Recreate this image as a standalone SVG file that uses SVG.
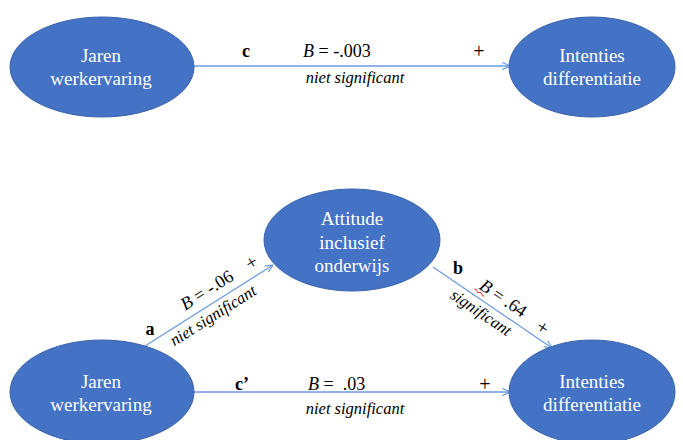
<svg xmlns="http://www.w3.org/2000/svg" width="683" height="440" viewBox="0 0 683 440">
<defs>
<style>
.node{fill:#4472C4;stroke:#3A63AB;stroke-width:1}
.nt{font-family:"Liberation Serif","Times New Roman",serif;font-size:19px;fill:#fff;text-anchor:middle}
.lbl{font-family:"Liberation Serif","Times New Roman",serif;font-size:18px;fill:#000}
.pl{font-family:"Liberation Serif","Times New Roman",serif;font-size:20px;fill:#000;text-anchor:middle}
.b{font-weight:bold}
.it{font-style:italic}
.ns{font-family:"Liberation Serif","Times New Roman",serif;font-size:16.5px;font-style:italic;fill:#000;text-anchor:middle}
.edge{stroke:#6D9BE0;stroke-width:1.3;fill:none;marker-end:url(#arr)}
</style>
<marker id="arr" viewBox="0 0 10 10" refX="9.5" refY="5" markerWidth="9" markerHeight="9" markerUnits="userSpaceOnUse" orient="auto">
<path d="M1,1 L9.5,5 L1,9" fill="none" stroke="#6D9BE0" stroke-width="1.3"/>
</marker>
</defs>
<rect width="683" height="440" fill="#fff"/>
<g id="connectors">
<line class="edge" x1="194" y1="66" x2="510" y2="66"/>
<line class="edge" x1="145" y1="346" x2="273" y2="265"/>
<line class="edge" x1="433" y1="267" x2="552" y2="348"/>
<line class="edge" x1="194" y1="392" x2="510" y2="392"/>
</g>
<g id="labels">
<text class="lbl b" x="246" y="57" text-anchor="middle">c</text>
<text class="lbl" x="303" y="57"><tspan class="it">B</tspan> = -.003</text>
<text class="pl" x="479" y="58">+</text>
<text class="ns" x="355" y="83">niet significant</text>
<text class="lbl b" x="150" y="335" text-anchor="middle">a</text>
<text class="lbl" text-anchor="middle" transform="translate(210,295) rotate(-32.3)"><tspan class="it">B</tspan> = -.06</text>
<text class="pl" transform="translate(255,268) rotate(-32.3)">+</text>
<text class="ns" transform="translate(216,320) rotate(-32.3)">niet significant</text>
<text class="lbl b" x="458" y="274" text-anchor="middle">b</text>
<g transform="translate(500,303) rotate(34.2)">
<text class="lbl" text-anchor="middle"><tspan class="it">B</tspan> = .64</text>
<path d="M-29,3 q1.5,-2 3,0 t3,0 t3,0 t3,0" fill="none" stroke="#E03030" stroke-width="0.9"/>
</g>
<text class="pl" transform="translate(539,333) rotate(34.2)">+</text>
<text class="ns" transform="translate(478,317) rotate(34.2)">significant</text>
<text class="lbl b" x="242" y="390" text-anchor="middle">c’</text>
<text class="lbl" x="308" y="390"><tspan class="it">B</tspan> =&#160;&#160;.03</text>
<text class="pl" x="485" y="391">+</text>
<text class="ns" x="355" y="414">niet significant</text>
</g>
<g id="jaren-top">
<ellipse class="node" cx="102" cy="67" rx="92" ry="50"/>
<text class="nt" x="101" y="62">Jaren</text>
<text class="nt" x="101" y="85">werkervaring</text>
</g>
<g id="intenties-top">
<ellipse class="node" cx="592" cy="67" rx="83" ry="50"/>
<text class="nt" x="592" y="62">Intenties</text>
<text class="nt" x="592" y="85">differentiatie</text>
</g>
<g id="attitude">
<ellipse class="node" cx="352" cy="240" rx="88" ry="51"/>
<text class="nt" x="352" y="225">Attitude</text>
<text class="nt" x="352" y="249">inclusief</text>
<text class="nt" x="352" y="272">onderwijs</text>
</g>
<g id="jaren-bottom">
<ellipse class="node" cx="102" cy="392" rx="92" ry="52"/>
<text class="nt" x="101" y="388">Jaren</text>
<text class="nt" x="101" y="411">werkervaring</text>
</g>
<g id="intenties-bottom">
<ellipse class="node" cx="592" cy="392" rx="83" ry="52"/>
<text class="nt" x="592" y="388">Intenties</text>
<text class="nt" x="592" y="411">differentiatie</text>
</g>
</svg>
